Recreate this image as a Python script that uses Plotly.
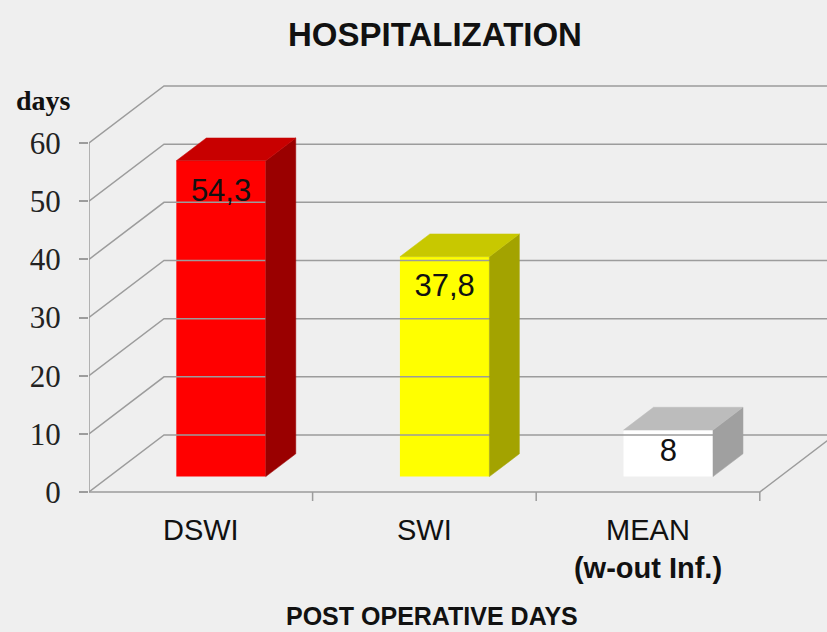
import plotly.graph_objects as go

# ---------------- data ----------------
categories = ["DSWI", "SWI", "MEAN"]
category_subtitles = ["", "", "(w-out Inf.)"]
values = [54.3, 37.8, 8]
y_ticks = [0, 10, 20, 30, 40, 50, 60]
title_text = "HOSPITALIZATION"
y_label = "days"
x_label = "POST OPERATIVE DAYS"

# ---------------- style ----------------
front_colors = ["#ff0000", "#ffff00", "#ffffff"]
side_colors = ["#9a0000", "#a3a300", "#a0a0a0"]
top_colors = ["#c80000", "#c8c800", "#bcbcbc"]
grid_color = "#9c9c9c"
bg = "#efefef"

W, H = 827, 632
L, R, T, B = 89, 0, 60, 122
plot_w = W - L - R
plot_h = H - T - B
px_per_x = 223.6            # pixels per category unit
px_per_y = 5.8167           # pixels per day
x_max = plot_w / px_per_x
y_min = -(H - B - 492) / px_per_y
y_max = y_min + plot_h / px_per_y

# pseudo-3D depth in data units
DX = 75 / px_per_x
DY = 57 / px_per_y
d1, d2 = 0.27, 0.67         # bar depth fractions (front, back)
bw = 0.4                    # bar width
n = len(categories)
centers = [i + 0.5 for i in range(n)]

fig = go.Figure()

# walls: back gridlines and side-wall diagonals
gx, gy = [], []
for v in y_ticks:
    gx += [0, DX, x_max, None]
    gy += [v, v + DY, v + DY, None]
# floor front edge + right diagonal + left axis
gx += [0, n, n + DX, None, 0, 0, None]
gy += [0, 0, DY, None, 0, max(y_ticks), None]
# small downward ticks on floor edge
tick_depth = 9 / px_per_y
for k in range(1, n + 1):
    gx += [k, k, None]
    gy += [0, -tick_depth, None]
fig.add_trace(go.Scatter(x=gx, y=gy, mode="lines",
                         line=dict(color=grid_color, width=1.5),
                         hoverinfo="skip", showlegend=False))

# bar side and top faces
for c, v, sc, tc in zip(centers, values, side_colors, top_colors):
    xr1 = c + bw / 2 + d1 * DX
    xr2 = c + bw / 2 + d2 * DX
    xl1 = c - bw / 2 + d1 * DX
    xl2 = c - bw / 2 + d2 * DX
    y1, y2 = d1 * DY, d2 * DY
    fig.add_trace(go.Scatter(
        x=[xr1, xr2, xr2, xr1, xr1], y=[y1, y2, v + y2, v + y1, y1],
        fill="toself", fillcolor=sc, mode="lines",
        line=dict(color=sc, width=0.5), hoverinfo="skip", showlegend=False))
    fig.add_trace(go.Scatter(
        x=[xl1, xr1, xr2, xl2, xl1], y=[v + y1, v + y1, v + y2, v + y2, v + y1],
        fill="toself", fillcolor=tc, mode="lines",
        line=dict(color=tc, width=0.5), hoverinfo="skip", showlegend=False))

# bar front faces
fig.add_trace(go.Bar(
    x=[c + d1 * DX for c in centers], y=values, base=[d1 * DY] * n,
    width=bw, marker=dict(color=front_colors, line=dict(width=0)),
    hoverinfo="skip", showlegend=False))

# value labels
fig.add_trace(go.Scatter(
    x=[c + d1 * DX for c in centers],
    y=[max(v - 5.5, v / 2) + d1 * DY for v in values],
    mode="text",
    text=[f"{v:g}".replace(".", ",") for v in values],
    textfont=dict(family="Liberation Sans", size=31, color="#111"),
    hoverinfo="skip", showlegend=False))

ticktext = [c if not s else f"{c}<br><b>{s}</b>" for c, s in zip(categories, category_subtitles)]

fig.update_layout(
    width=W, height=H,
    margin=dict(l=L, r=R, t=T, b=B),
    paper_bgcolor=bg, plot_bgcolor="rgba(0,0,0,0)",
    barmode="overlay",
    title=dict(text=f"<b>{title_text}</b>", x=435 / W, xanchor="center",
               y=1 - 34 / H, yanchor="middle",
               font=dict(family="Liberation Sans", size=33, color="#111")),
    xaxis=dict(range=[0, x_max], showgrid=False, zeroline=False, showline=False,
               tickvals=centers, ticktext=ticktext, ticks="",
               tickfont=dict(family="Liberation Sans", size=29, color="#111")),
    yaxis=dict(range=[y_min, y_max], showgrid=False, zeroline=False, showline=False,
               tickvals=y_ticks, ticktext=[str(t) for t in y_ticks],
               ticks="outside", ticklen=9, tickcolor=grid_color, tickwidth=1.5,
               ticklabelstandoff=12,
               tickfont=dict(family="Liberation Serif", size=31, color="#222")),
    annotations=[
        dict(text=f"<b>{y_label}</b>", xref="paper", yref="paper",
             x=(43 - L) / plot_w, y=(H - B - 100) / plot_h,
             xanchor="center", yanchor="middle", showarrow=False,
             font=dict(family="Liberation Serif", size=28, color="#111")),
        dict(text=f"<b>{x_label}</b>", xref="paper", yref="paper",
             x=(432 - L) / plot_w, y=-(616 - (H - B)) / plot_h,
             xanchor="center", yanchor="middle", showarrow=False,
             font=dict(family="Liberation Sans", size=25, color="#111")),
    ],
)

fig.write_html("out.html", config={"displayModeBar": False},
               post_script="document.body.style.margin='0';document.body.style.overflow='hidden';")
